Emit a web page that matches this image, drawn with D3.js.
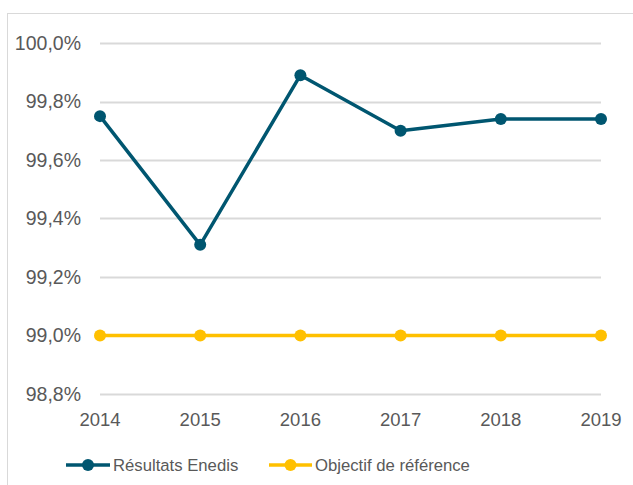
<!DOCTYPE html>
<html>
<head>
<meta charset="utf-8">
<script src="https://cdn.jsdelivr.net/npm/d3@7"></script>
<style>
  body { margin: 0; background: #fff; }
  text { font-family: "Liberation Sans", Arial, sans-serif; fill: #595959; }
</style>
</head>
<body>
<div id="chart"></div>
<script>
// Data
const years = ["2014", "2015", "2016", "2017", "2018", "2019"];
const enedis = [99.75, 99.31, 99.89, 99.70, 99.74, 99.74];
const objectif = [99.0, 99.0, 99.0, 99.0, 99.0, 99.0];
const yTicks = [98.8, 99.0, 99.2, 99.4, 99.6, 99.8, 100.0];
const seriesNames = ["Résultats Enedis", "Objectif de référence"];
const colors = ["#005670", "#FFC000"];

const config = {
  width  : 633,
  height : 485,
  left   : 100,
  right  : 601,
  top    : 43,
  bottom : 394
};

const svg = d3.select("#chart")
  .append("svg")
    .attr("width", config.width)
    .attr("height", config.height);

// chart frame
svg.append("rect")
  .attr("x", 7.5).attr("y", 13.5)
  .attr("width", 640).attr("height", 480)
  .attr("fill", "none")
  .attr("stroke", "#d9d9d9")
  .attr("stroke-width", 1);

const x = d3.scalePoint()
  .domain(years)
  .range([config.left, config.right]);

const y = d3.scaleLinear()
  .domain([98.8, 100.0])
  .range([config.bottom, config.top]);

// gridlines
svg.selectAll(".grid")
  .data(yTicks)
  .enter()
  .append("line")
    .attr("class", "grid")
    .attr("x1", config.left).attr("x2", config.right)
    .attr("y1", d => Math.round(y(d)) + 0.5)
    .attr("y2", d => Math.round(y(d)) + 0.5)
    .attr("stroke", "#d9d9d9")
    .attr("stroke-width", 2);

// y labels
const fmt = d => d.toFixed(1).replace(".", ",") + "%";
svg.selectAll(".ylab")
  .data(yTicks)
  .enter()
  .append("text")
    .attr("x", 81)
    .attr("y", d => y(d))
    .attr("dy", "0.35em")
    .attr("text-anchor", "end")
    .style("font-size", "19.5px")
    .text(fmt);

// x labels
svg.selectAll(".xlab")
  .data(years)
  .enter()
  .append("text")
    .attr("x", d => x(d))
    .attr("y", 420)
    .attr("dy", "0.35em")
    .attr("text-anchor", "middle")
    .style("font-size", "18.5px")
    .text(d => d);

// lines + markers
const line = d3.line()
  .x((d, i) => x(years[i]))
  .y(d => y(d));

[objectif, enedis].forEach(function(values, k) {
  const color = k === 0 ? colors[1] : colors[0];
  svg.append("path")
    .datum(values)
    .attr("d", line)
    .attr("fill", "none")
    .attr("stroke", color)
    .attr("stroke-width", 3.5)
    .attr("stroke-linejoin", "round");

  svg.selectAll(null)
    .data(values)
    .enter()
    .append("circle")
      .attr("cx", (d, i) => x(years[i]))
      .attr("cy", d => y(d))
      .attr("r", 6)
      .attr("fill", color);
});

// legend
const legendItems = [
  { name: seriesNames[0], color: colors[0], x0: 66, x1: 110, tx: 113 },
  { name: seriesNames[1], color: colors[1], x0: 269, x1: 312, tx: 315 }
];
const ly = 465;
const legend = svg.selectAll(".legend")
  .data(legendItems)
  .enter()
  .append("g")
    .attr("class", "legend");

legend.append("line")
  .attr("x1", d => d.x0).attr("x2", d => d.x1)
  .attr("y1", ly).attr("y2", ly)
  .attr("stroke", d => d.color)
  .attr("stroke-width", 3.5);

legend.append("circle")
  .attr("cx", d => (d.x0 + d.x1) / 2)
  .attr("cy", ly)
  .attr("r", 6)
  .attr("fill", d => d.color);

legend.append("text")
  .attr("x", d => d.tx)
  .attr("y", ly)
  .attr("dy", "0.35em")
  .style("font-size", "16.7px")
  .text(d => d.name);
</script>
</body>
</html>
